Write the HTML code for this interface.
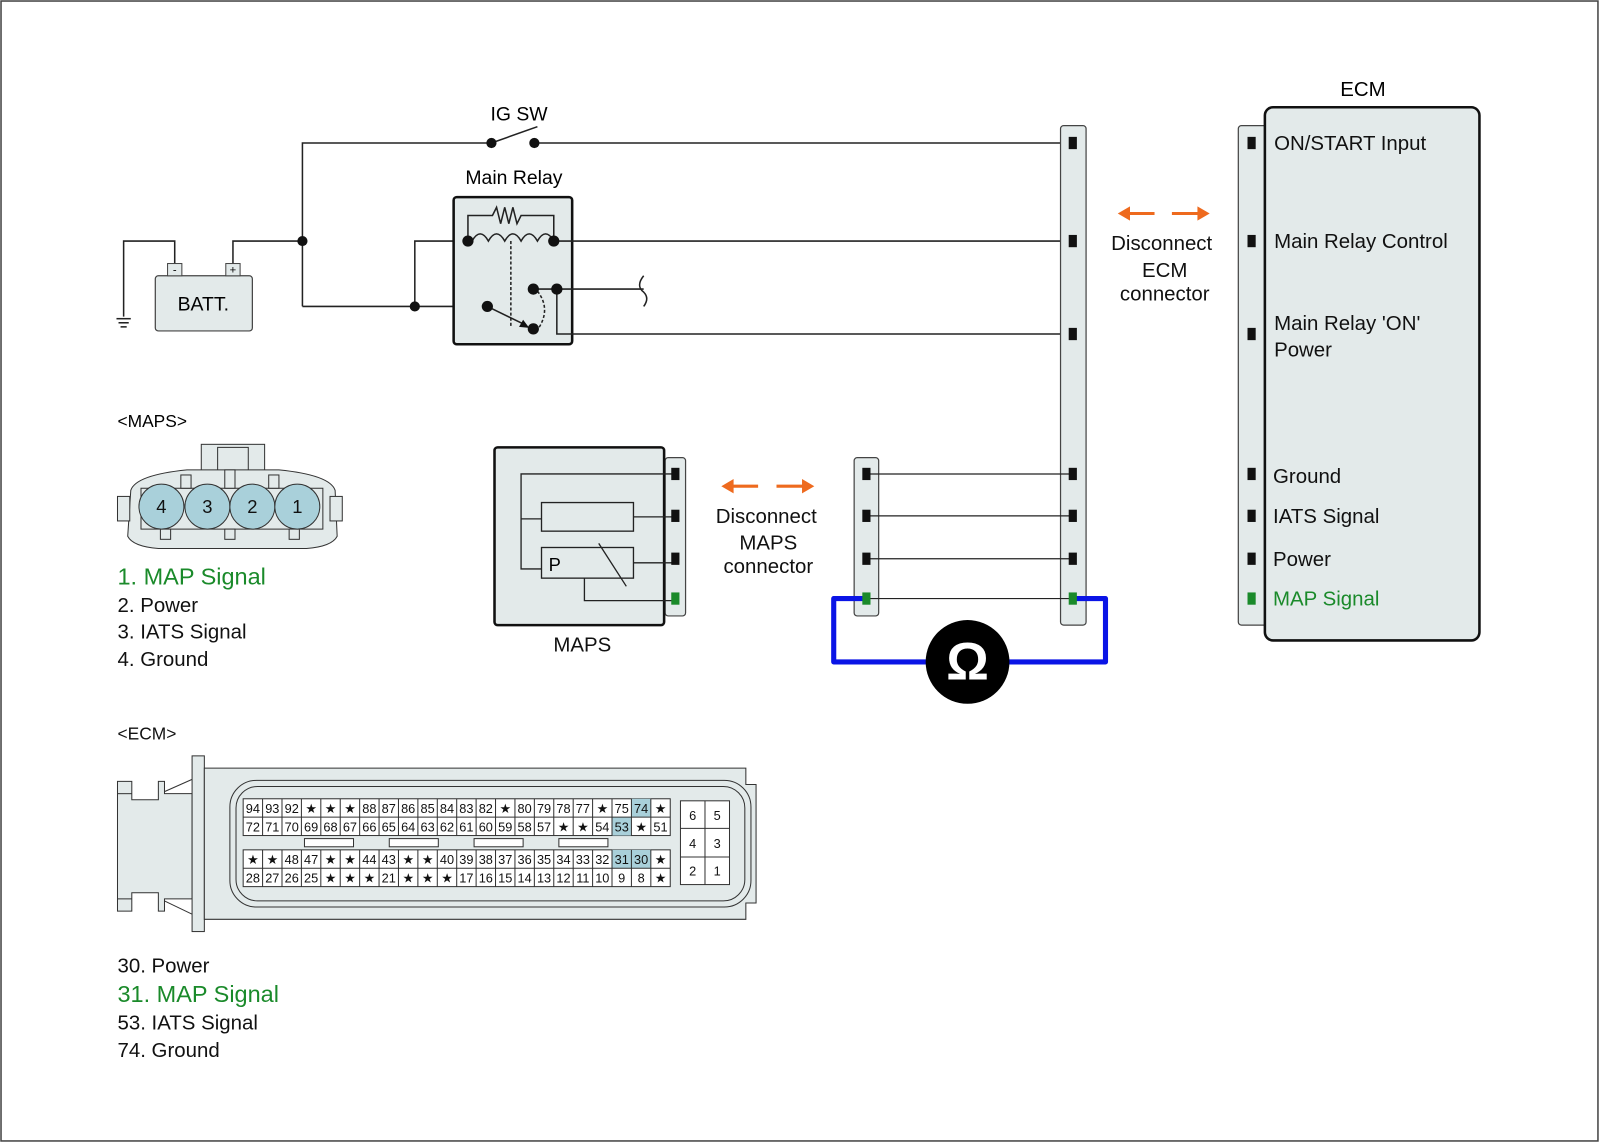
<!DOCTYPE html>
<html><head><meta charset="utf-8"><style>
html,body{margin:0;padding:0;background:#fff}
svg{display:block}
text{font-family:"Liberation Sans",Arial,sans-serif}
</style></head><body>
<svg width="1600" height="1143" viewBox="0 0 1566 1119" preserveAspectRatio="none" xmlns="http://www.w3.org/2000/svg">
<rect x="1" y="1" width="1563" height="1116" fill="#fff" stroke="#444" stroke-width="1.5"/>
<g stroke="#222" stroke-width="1.5" fill="none">
<polyline points="296,300 296,140 481,140"/>
<line x1="481" y1="140" x2="526" y2="124"/>
<line x1="523" y1="140" x2="1050" y2="140"/>
<polyline points="121,310 121,236 171,236 171,258"/>
<polyline points="228,258 228,236 296,236"/>
<polyline points="406,300 406,236 458,236"/>
<line x1="114" y1="312" x2="128" y2="312"/><line x1="116" y1="316" x2="126" y2="316"/><line x1="118" y1="320" x2="124" y2="320"/>
<polyline points="296,300 477,300"/>
</g>
<rect x="152" y="270" width="95" height="54" rx="3" fill="#e3eaea" stroke="#444" stroke-width="1.2"/>
<rect x="164" y="258" width="14" height="12" fill="#e3eaea" stroke="#444"/>
<rect x="221" y="258" width="14" height="12" fill="#e3eaea" stroke="#444"/>
<text x="171" y="268" font-size="11" text-anchor="middle">-</text>
<text x="228" y="268" font-size="11" text-anchor="middle">+</text>
<text x="199" y="304" font-size="19" text-anchor="middle">BATT.</text>
<text x="508" y="118" font-size="19" text-anchor="middle">IG SW</text>
<text x="503" y="180" font-size="19" text-anchor="middle">Main Relay</text>
<rect x="444" y="193" width="116" height="144" rx="3" fill="#e3eaea" stroke="#111" stroke-width="2.5"/>
<g stroke="#222" stroke-width="1.5" fill="none">
<polyline points="458,236 458,211 482,211 486,203 490,219 494,203 498,219 502,203 506,219 510,211 542,211 542,236"/>
<path d="M462,236 q8,-14 16,0 q8,-14 16,0 q8,-14 16,0 q8,-14 16,0 q8,-14 16,0"/>
<line x1="500" y1="236" x2="500" y2="320" stroke-dasharray="3,2"/>
<path d="M526,285 q14,18 0,38" stroke-dasharray="3,2"/>
<line x1="477" y1="300" x2="514" y2="318"/>
<line x1="542" y1="236" x2="1050" y2="236"/>
<polyline points="522,283 630,283"/>
<path d="M630,270 q-8,10 0,16 q6,6 0,14"/>
<polyline points="545,283 545,327 1050,327"/>
</g>
<polygon points="518,321 508,320 512,313" fill="#111"/>
<g fill="#111">
<circle cx="481" cy="140" r="5"/><circle cx="523" cy="140" r="5"/>
<circle cx="296" cy="236" r="5"/><circle cx="406" cy="300" r="5"/>
<circle cx="458" cy="236" r="5.5"/><circle cx="542" cy="236" r="5.5"/>
<circle cx="477" cy="300" r="5.5"/><circle cx="522" cy="283" r="5.5"/><circle cx="545" cy="283" r="5.5"/><circle cx="522" cy="322" r="5.5"/>
</g>
<rect x="1038" y="123" width="25" height="489" rx="3" fill="#e3eaea" stroke="#444" stroke-width="1.2"/>
<rect x="836" y="448" width="24" height="155" rx="3" fill="#e3eaea" stroke="#444" stroke-width="1.2"/>
<g stroke="#222" stroke-width="1.2">
<line x1="848" y1="464" x2="1050" y2="464"/><line x1="848" y1="505" x2="1050" y2="505"/>
<line x1="848" y1="547" x2="1050" y2="547"/><line x1="848" y1="586" x2="1050" y2="586"/>
</g>
<polyline points="848,586 816,586 816,648 1082,648 1082,586 1050,586" fill="none" stroke="#0a14e6" stroke-width="5" stroke-linejoin="round"/>
<circle cx="947" cy="648" r="41" fill="#000"/>
<text x="947" y="665" font-size="52" font-weight="bold" fill="#fff" text-anchor="middle">Ω</text>
<g fill="#111">
<rect x="1046" y="134" width="8" height="12"/><rect x="1046" y="230" width="8" height="12"/><rect x="1046" y="321" width="8" height="12"/>
<rect x="1046" y="458" width="8" height="12"/><rect x="1046" y="499" width="8" height="12"/><rect x="1046" y="541" width="8" height="12"/>
<rect x="844" y="458" width="8" height="12"/><rect x="844" y="499" width="8" height="12"/><rect x="844" y="541" width="8" height="12"/>
</g>
<rect x="1046" y="580" width="8" height="12" fill="#1a8a2a"/><rect x="844" y="580" width="8" height="12" fill="#1a8a2a"/>
<rect x="1212" y="123" width="30" height="489" rx="3" fill="#e3eaea" stroke="#444" stroke-width="1.2"/>
<rect x="1238" y="105" width="210" height="522" rx="8" fill="#e3eaea" stroke="#111" stroke-width="2.5"/>
<text x="1334" y="94" font-size="20" text-anchor="middle">ECM</text>
<g fill="#111">
<rect x="1221" y="134" width="8" height="12"/><rect x="1221" y="230" width="8" height="12"/><rect x="1221" y="321" width="8" height="12"/>
<rect x="1221" y="458" width="8" height="12"/><rect x="1221" y="499" width="8" height="12"/><rect x="1221" y="541" width="8" height="12"/>
</g>
<rect x="1221" y="580" width="8" height="12" fill="#1a8a2a"/>
<g font-size="20" fill="#111">
<text x="1247" y="147">ON/START Input</text>
<text x="1247" y="243">Main Relay Control</text>
<text x="1247" y="323">Main Relay 'ON'</text>
<text x="1247" y="349">Power</text>
<text x="1246" y="473">Ground</text>
<text x="1246" y="512">IATS Signal</text>
<text x="1246" y="554">Power</text>
<text x="1246" y="593" fill="#1a8a2a">MAP Signal</text>
</g>
<g stroke="#ee6a1e" stroke-width="3" fill="#ee6a1e">
<line x1="1102" y1="209" x2="1130" y2="209"/><polygon points="1094,209 1106,202 1106,216" stroke="none"/>
<line x1="1147" y1="209" x2="1176" y2="209"/><polygon points="1184,209 1172,202 1172,216" stroke="none"/>
<line x1="715" y1="476" x2="742" y2="476"/><polygon points="706,476 718,469 718,483" stroke="none"/>
<line x1="760" y1="476" x2="788" y2="476"/><polygon points="797,476 785,469 785,483" stroke="none"/>
</g>
<g font-size="20" text-anchor="middle" fill="#111">
<text x="1137" y="245">Disconnect</text><text x="1140" y="271">ECM</text><text x="1140" y="294">connector</text>
<text x="750" y="512">Disconnect</text><text x="752" y="538">MAPS</text><text x="752" y="561">connector</text>
<text x="570" y="638">MAPS</text>
</g>
<rect x="651" y="448" width="20" height="155" rx="3" fill="#e3eaea" stroke="#444" stroke-width="1.2"/>
<rect x="484" y="438" width="166" height="174" rx="3" fill="#e3eaea" stroke="#111" stroke-width="2.5"/>
<g stroke="#222" stroke-width="1.3" fill="none">
<polyline points="660,464 510,464 510,557 530,557"/>
<line x1="510" y1="508" x2="530" y2="508"/>
<rect x="530" y="492" width="90" height="28"/>
<line x1="620" y1="506" x2="660" y2="506"/>
<rect x="530" y="536" width="90" height="30"/>
<line x1="620" y1="551" x2="660" y2="551"/>
<polyline points="572,566 572,588 660,588"/>
<line x1="586" y1="532" x2="613" y2="574"/>
</g>
<text x="537" y="559" font-size="18">P</text>
<g fill="#111"><rect x="657" y="458" width="8" height="12"/><rect x="657" y="499" width="8" height="12"/><rect x="657" y="541" width="8" height="12"/></g>
<rect x="657" y="580" width="8" height="12" fill="#1a8a2a"/>
<text x="115" y="418" font-size="17">&lt;MAPS&gt;</text>
<g stroke="#333" stroke-width="1" fill="#e3eaea">
<rect x="197" y="435" width="62" height="30"/>
<rect x="213" y="438" width="30" height="24"/>
<path d="M128,480 q5,-15 55,-20 l90,0 q50,5 55,20 l2,45 q-5,10 -30,12 l-145,0 q-25,-2 -30,-12 z"/>
<rect x="115" y="486" width="12" height="24"/><rect x="323" y="486" width="12" height="24"/>
<rect x="138" y="478" width="178" height="40" fill="none"/>
<rect x="177" y="465" width="10" height="13"/><rect x="263" y="465" width="10" height="13"/><rect x="220" y="460" width="10" height="18"/>
<rect x="157" y="518" width="10" height="10"/><rect x="283" y="518" width="10" height="10"/><rect x="220" y="518" width="10" height="10"/>
</g>
<g fill="#a9d0da" stroke="#333" stroke-width="1">
<circle cx="158" cy="496" r="22"/><circle cx="203" cy="496" r="22"/><circle cx="247" cy="496" r="22"/><circle cx="291" cy="496" r="22"/>
</g>
<g font-size="18" text-anchor="middle" fill="#111">
<text x="158" y="502">4</text><text x="203" y="502">3</text><text x="247" y="502">2</text><text x="291" y="502">1</text>
</g>
<g font-size="20" fill="#111">
<text x="115" y="572" font-size="23" fill="#1a8a2a">1. MAP Signal</text>
<text x="115" y="599">2. Power</text>
<text x="115" y="625">3. IATS Signal</text>
<text x="115" y="652">4. Ground</text>
<text x="115" y="724" font-size="17">&lt;ECM&gt;</text>
<text x="115" y="952">30. Power</text>
<text x="115" y="981" font-size="23" fill="#1a8a2a">31. MAP Signal</text>
<text x="115" y="1008">53. IATS Signal</text>
<text x="115" y="1035">74. Ground</text>
</g>
<g stroke="#333" stroke-width="1" fill="#e3eaea">
<path d="M115,765 H129 V783 H155 V765 H161 V777 H188 V880 H161 V892 H155 V874 H129 V892 H115 Z"/>
<line x1="115" y1="777" x2="129" y2="777"/><line x1="115" y1="880" x2="129" y2="880"/>
<line x1="161" y1="775" x2="188" y2="763"/><line x1="161" y1="882" x2="188" y2="895"/>
<rect x="188" y="740" width="12" height="172"/>
<path d="M200,752 L730,752 L730,768 L740,768 L740,884 L730,884 L730,900 L200,900 z"/>
<rect x="225" y="764" width="510" height="124" rx="26" fill="none"/>
<rect x="231" y="770" width="498" height="112" rx="21" fill="none"/>
</g>
<g fill="#fff" stroke="#333" stroke-width="1">
<rect x="238" y="782" width="418" height="36"/><rect x="238" y="832" width="418" height="36"/>
<rect x="298" y="821" width="48" height="8"/><rect x="381" y="821" width="48" height="8"/><rect x="464" y="821" width="48" height="8"/><rect x="547" y="821" width="48" height="8"/>
<rect x="666" y="784" width="48" height="82"/>
</g>
<g fill="#a9d0da"><rect x="618" y="782" width="19" height="18"/><rect x="599" y="800" width="19" height="18"/><rect x="599" y="832" width="38" height="18"/></g>
<g stroke="#333" stroke-width="1">
<line x1="238" y1="800" x2="656" y2="800"/><line x1="238" y1="850" x2="656" y2="850"/>
<line x1="690" y1="784" x2="690" y2="866"/><line x1="666" y1="811" x2="714" y2="811"/><line x1="666" y1="839" x2="714" y2="839"/>
<path d="M257,782v36M276,782v36M295,782v36M314,782v36M333,782v36M352,782v36M371,782v36M390,782v36M409,782v36M428,782v36M447,782v36M466,782v36M485,782v36M504,782v36M523,782v36M542,782v36M561,782v36M580,782v36M599,782v36M618,782v36M637,782v36"/>
<path d="M257,832v36M276,832v36M295,832v36M314,832v36M333,832v36M352,832v36M371,832v36M390,832v36M409,832v36M428,832v36M447,832v36M466,832v36M485,832v36M504,832v36M523,832v36M542,832v36M561,832v36M580,832v36M599,832v36M618,832v36M637,832v36"/>
</g>
<g font-size="12.5" text-anchor="middle" fill="#111">
<text x="247.5" y="796">94</text><text x="266.5" y="796">93</text><text x="285.5" y="796">92</text><text x="304.5" y="796">★</text><text x="323.5" y="796">★</text><text x="342.5" y="796">★</text><text x="361.5" y="796">88</text><text x="380.5" y="796">87</text><text x="399.5" y="796">86</text><text x="418.5" y="796">85</text><text x="437.5" y="796">84</text><text x="456.5" y="796">83</text><text x="475.5" y="796">82</text><text x="494.5" y="796">★</text><text x="513.5" y="796">80</text><text x="532.5" y="796">79</text><text x="551.5" y="796">78</text><text x="570.5" y="796">77</text><text x="589.5" y="796">★</text><text x="608.5" y="796">75</text><text x="627.5" y="796">74</text><text x="646.5" y="796">★</text>
<text x="247.5" y="814">72</text><text x="266.5" y="814">71</text><text x="285.5" y="814">70</text><text x="304.5" y="814">69</text><text x="323.5" y="814">68</text><text x="342.5" y="814">67</text><text x="361.5" y="814">66</text><text x="380.5" y="814">65</text><text x="399.5" y="814">64</text><text x="418.5" y="814">63</text><text x="437.5" y="814">62</text><text x="456.5" y="814">61</text><text x="475.5" y="814">60</text><text x="494.5" y="814">59</text><text x="513.5" y="814">58</text><text x="532.5" y="814">57</text><text x="551.5" y="814">★</text><text x="570.5" y="814">★</text><text x="589.5" y="814">54</text><text x="608.5" y="814">53</text><text x="627.5" y="814">★</text><text x="646.5" y="814">51</text>
<text x="247.5" y="846">★</text><text x="266.5" y="846">★</text><text x="285.5" y="846">48</text><text x="304.5" y="846">47</text><text x="323.5" y="846">★</text><text x="342.5" y="846">★</text><text x="361.5" y="846">44</text><text x="380.5" y="846">43</text><text x="399.5" y="846">★</text><text x="418.5" y="846">★</text><text x="437.5" y="846">40</text><text x="456.5" y="846">39</text><text x="475.5" y="846">38</text><text x="494.5" y="846">37</text><text x="513.5" y="846">36</text><text x="532.5" y="846">35</text><text x="551.5" y="846">34</text><text x="570.5" y="846">33</text><text x="589.5" y="846">32</text><text x="608.5" y="846">31</text><text x="627.5" y="846">30</text><text x="646.5" y="846">★</text>
<text x="247.5" y="864">28</text><text x="266.5" y="864">27</text><text x="285.5" y="864">26</text><text x="304.5" y="864">25</text><text x="323.5" y="864">★</text><text x="342.5" y="864">★</text><text x="361.5" y="864">★</text><text x="380.5" y="864">21</text><text x="399.5" y="864">★</text><text x="418.5" y="864">★</text><text x="437.5" y="864">★</text><text x="456.5" y="864">17</text><text x="475.5" y="864">16</text><text x="494.5" y="864">15</text><text x="513.5" y="864">14</text><text x="532.5" y="864">13</text><text x="551.5" y="864">12</text><text x="570.5" y="864">11</text><text x="589.5" y="864">10</text><text x="608.5" y="864">9</text><text x="627.5" y="864">8</text><text x="646.5" y="864">★</text>
<text x="678" y="803">6</text><text x="702" y="803">5</text><text x="678" y="830">4</text><text x="702" y="830">3</text><text x="678" y="857">2</text><text x="702" y="857">1</text>
</g>
</svg>
</body></html>
